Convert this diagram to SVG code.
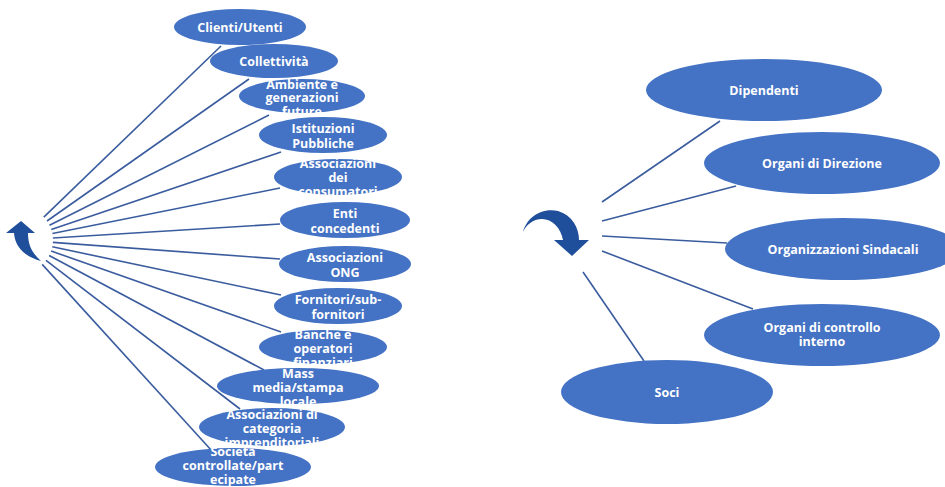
<svg xmlns="http://www.w3.org/2000/svg" width="945" height="487" viewBox="0 0 945 487">
<style>
.n{fill:#4472C4}
.t{fill:#FFFFFF;font-family:"Open Sans","Liberation Sans",sans-serif;font-weight:700;font-size:12.5px;text-anchor:middle}
.c line{stroke:#3A5C9E;stroke-width:1.6}
.arr{fill:#1F4E9A}
</style>
<rect width="945" height="487" fill="#FFFFFF"/>
<g id="arrow-left"><path class="arr" d="M6,233 L21,221 L35,233 L28,233 C28,245 32,253 41,261 C26,257 15,248 14,233 Z"/></g>
<g id="arrow-right"><path class="arr" d="M523,232 C528,214 545,208 558,211 C572,215 579,228 579,240 L589,240 L572,256 L554,240 L563,240 C561,228 552,219 542,219 C533,219 526,225 523,232 Z"/></g>
<g class="c" id="connectors">
<line x1="43.8" y1="217.1" x2="221" y2="46"/>
<line x1="47" y1="221" x2="249" y2="79"/>
<line x1="49.5" y1="225.2" x2="269" y2="115"/>
<line x1="51.3" y1="229.5" x2="281" y2="152"/>
<line x1="52.4" y1="233.5" x2="280" y2="188"/>
<line x1="52.9" y1="238" x2="280" y2="224"/>
<line x1="52.9" y1="242.4" x2="280" y2="259"/>
<line x1="52.3" y1="246.8" x2="281" y2="295"/>
<line x1="51.1" y1="251" x2="281" y2="332"/>
<line x1="49.1" y1="255.5" x2="264" y2="370"/>
<line x1="46" y1="260.3" x2="240" y2="409"/>
<line x1="42.2" y1="264.4" x2="212" y2="451"/>
<line x1="602" y1="202" x2="720" y2="121"/>
<line x1="602" y1="221" x2="736" y2="186"/>
<line x1="602" y1="236" x2="727" y2="243"/>
<line x1="602" y1="251" x2="753" y2="309"/>
<line x1="583" y1="272" x2="644" y2="361"/>
</g>
<g id="n1"><ellipse class="n" cx="240" cy="27" rx="66" ry="18"/><text class="t" x="240" y="31.5">Clienti/Utenti</text></g>
<g id="n2"><ellipse class="n" cx="274" cy="61" rx="64" ry="17"/><text class="t" x="274" y="65.5">Collettività</text></g>
<g id="n3"><ellipse class="n" cx="302" cy="96" rx="63" ry="17"/><text class="t" x="302" y="88.5">Ambiente e</text><text class="t" x="302" y="102">generazioni</text><text class="t" x="302" y="115.5">future</text></g>
<g id="n4"><ellipse class="n" cx="323" cy="135" rx="64" ry="18"/><text class="t" x="323" y="132.5">Istituzioni</text><text class="t" x="323" y="147.5">Pubbliche</text></g>
<g id="n5"><ellipse class="n" cx="338" cy="177" rx="64" ry="18"/><text class="t" x="338" y="167.5">Associazioni</text><text class="t" x="338" y="181.5">dei</text><text class="t" x="338" y="195.5">consumatori</text></g>
<g id="n6"><ellipse class="n" cx="345" cy="220" rx="65" ry="18"/><text class="t" x="345" y="217.5">Enti</text><text class="t" x="345" y="232.5">concedenti</text></g>
<g id="n7"><ellipse class="n" cx="345" cy="264" rx="66" ry="18"/><text class="t" x="345" y="261.5">Associazioni</text><text class="t" x="345" y="276.5">ONG</text></g>
<g id="n8"><ellipse class="n" cx="338" cy="306" rx="64" ry="18"/><text class="t" x="338" y="303.5">Fornitori/sub-</text><text class="t" x="338" y="318.5">fornitori</text></g>
<g id="n9"><ellipse class="n" cx="323" cy="347" rx="64" ry="17"/><text class="t" x="323" y="338.5">Banche e</text><text class="t" x="323" y="352.5">operatori</text><text class="t" x="323" y="366.5">finanziari</text></g>
<g id="n10"><ellipse class="n" cx="298" cy="386" rx="81" ry="18"/><text class="t" x="298" y="377.5">Mass</text><text class="t" x="298" y="391.5">media/stampa</text><text class="t" x="298" y="405.5">locale</text></g>
<g id="n11"><ellipse class="n" cx="272" cy="427" rx="73" ry="19"/><text class="t" x="272" y="418.5">Associazioni di</text><text class="t" x="272" y="432.5">categoria</text><text class="t" x="272" y="446.5">imprenditoriali</text></g>
<g id="n12"><ellipse class="n" cx="233" cy="467" rx="78" ry="19"/><text class="t" x="233" y="456">Società</text><text class="t" x="233" y="470">controllate/part</text><text class="t" x="233" y="483.5">ecipate</text></g>
<g id="r1"><ellipse class="n" cx="764" cy="90" rx="118" ry="31"/><text class="t" x="764" y="94.5">Dipendenti</text></g>
<g id="r2"><ellipse class="n" cx="822" cy="163" rx="118" ry="31"/><text class="t" x="822" y="167.5">Organi di Direzione</text></g>
<g id="r3"><ellipse class="n" cx="843" cy="249" rx="118" ry="31"/><text class="t" x="843" y="253.5">Organizzazioni Sindacali</text></g>
<g id="r4"><ellipse class="n" cx="822" cy="335" rx="118" ry="31"/><text class="t" x="822" y="331.5">Organi di controllo</text><text class="t" x="822" y="346">interno</text></g>
<g id="r5"><ellipse class="n" cx="667" cy="392" rx="106" ry="32"/><text class="t" x="667" y="396.5">Soci</text></g>
</svg>
